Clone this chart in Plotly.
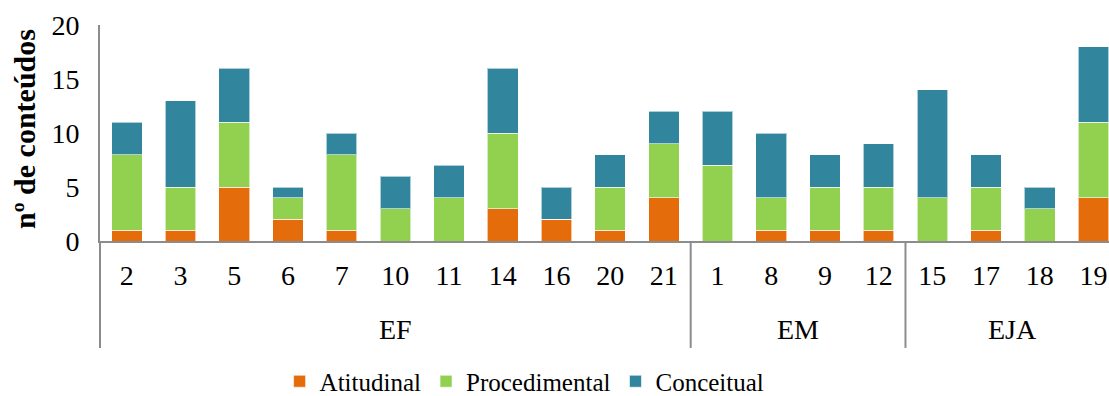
import plotly.graph_objects as go

# Category labels, grouped by level of education
grupos = ["EF", "EM", "EJA"]
ef = ["2", "3", "5", "6", "7", "10", "11", "14", "16", "20", "21"]
em = ["1", "8", "9", "12"]
eja = ["15", "17", "18", "19"]
rotulos = ef + em + eja

# Number of contents per type (stacked)
atitudinal =    [1, 1, 5, 2, 1, 0, 0, 3, 2, 1, 4,   0, 1, 1, 1,   0, 1, 0, 4]
procedimental = [7, 4, 6, 2, 7, 3, 4, 7, 0, 4, 5,   7, 3, 4, 4,   4, 4, 3, 7]
conceitual =    [3, 8, 5, 1, 2, 3, 3, 6, 3, 3, 3,   5, 6, 3, 4,   10, 3, 2, 7]

cores = {"Atitudinal": "#E46C0A", "Procedimental": "#92D050", "Conceitual": "#31859C"}
fonte = "Liberation Serif, Times New Roman, serif"
cinza = "#8C8C8C"

fig = go.Figure()
for nome, valores in [("Atitudinal", atitudinal), ("Procedimental", procedimental),
                      ("Conceitual", conceitual)]:
    fig.add_trace(go.Bar(
        x=rotulos, y=valores, name=nome,
        marker=dict(color=cores[nome], line=dict(color="rgba(255,255,255,0.6)", width=1)),
    ))

fig.update_layout(
    barmode="stack",
    bargap=0.43,
    width=1109, height=396,
    margin=dict(l=100, r=0, t=25, b=155, autoexpand=False),
    plot_bgcolor="white", paper_bgcolor="white",
    font=dict(family=fonte, color="black", size=28),
    showlegend=True,
    legend=dict(orientation="h", x=0.178, xanchor="left",
                yref="container", y=0.0947, yanchor="top",
                font=dict(size=25, family=fonte), traceorder="normal",
                itemwidth=30, tracegroupgap=0),
)

fig.update_xaxes(
    type="category", range=[-0.5, 18.29],
    showline=True, linecolor=cinza, linewidth=2,
    ticks="", showgrid=False, tickfont=dict(size=28, family=fonte),
    ticklabelstandoff=8,
)
fig.update_yaxes(
    range=[0, 20], dtick=5, showgrid=False, zeroline=False,
    showline=True, linecolor=cinza, linewidth=2, ticks="",
    tickfont=dict(size=28, family=fonte), ticklabelstandoff=13,
)

# Y axis title
fig.add_annotation(
    text="<b>nº de conteúdos</b>", textangle=-90, showarrow=False,
    xref="paper", yref="paper", x=-0.075, y=0.52, xanchor="center", yanchor="middle",
    font=dict(size=30, family=fonte),
)

# Group labels and dividers below the category axis
membros = [ef, em, eja]
inicio = 0
fronteiras = [-0.5]
for g, m in zip(grupos, membros):
    centro = inicio + (len(m) - 1) / 2
    fig.add_annotation(
        text=g, showarrow=False, xref="x", yref="paper", x=centro, y=-0.41,
        xanchor="center", yanchor="middle", font=dict(size=28, family=fonte),
    )
    inicio += len(m)
    fronteiras.append(inicio - 0.5)

fig.add_shape(type="line", xref="paper", yref="paper", x0=0, x1=0, y0=0, y1=-0.495,
              line=dict(color=cinza, width=2))
for f in fronteiras[1:-1]:
    fig.add_shape(type="line", xref="x", yref="paper", x0=f, x1=f, y0=0, y1=-0.495,
                  line=dict(color=cinza, width=2))

fig.write_html("out.html")
